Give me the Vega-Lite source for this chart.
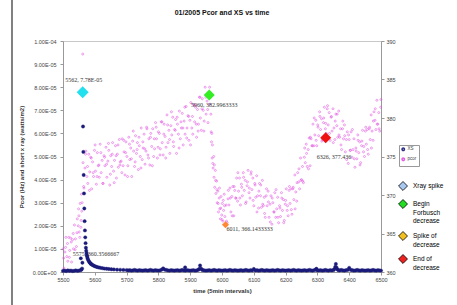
{
"$schema": "https://vega.github.io/schema/vega-lite/v6.json",
"width": 318, "height": 231,
"autosize": {"type": "none"},
"padding": {"left": 63, "top": 41, "right": 76, "bottom": 33},
"background": "white",
"title": {"text": "01/2005 Pcor and XS vs time", "fontSize": 7, "font": "Liberation Sans", "fontWeight": "bold", "color": "#111", "offset": 0, "dy": 17, "anchor": "middle", "frame": "group"},
"config": {
  "view": {"stroke": "#c8c8c8", "strokeWidth": 1},
  "axis": {"labelFont": "Liberation Sans", "labelFontSize": 5.5, "labelColor": "#444", "domainColor": "#999", "tickColor": "#999", "tickSize": 3, "grid": false, "titleFont": "Liberation Sans", "titleFontSize": 6, "titleFontWeight": "bold", "titleColor": "#333", "labelFlush": false, "labelOverlap": false}
},
"datasets": {
"events": [
{"event":"Xray spike","t":5562,"v":7.78e-5,"label":"5562, 7.78E-05"},
{"event":"Begin Forbusch decrease","t":5960,"v":382.9963333,"label":"5960, 382.9963333"},
{"event":"Spike of decrease","t":6011,"v":366.1433333,"label":"6011, 366.1433333"},
{"event":"End of decrease","t":6326,"v":377.436,"label":"6326, 377.436"}
],
"note": [{"t":5575,"v":360.3566667,"label":"5575, 360.3566667"}],
"frame": [{"t":5339.6,"top":1.1775e-4,"bottom":-1.43e-5}],
"pcor": [
{"t":5500,"v":363.0},{"t":5503,"v":360.5},{"t":5506,"v":362.6},{"t":5509,"v":364.5},{"t":5512,"v":362.0},{"t":5515,"v":361.4},{"t":5518,"v":364.5},{"t":5521,"v":362.8},{"t":5524,"v":364.4},{"t":5527,"v":361.3},{"t":5530,"v":364.2},{"t":5533,"v":363.0},{"t":5536,"v":366.1},{"t":5539,"v":364.3},{"t":5542,"v":363.3},{"t":5545,"v":366.9},{"t":5548,"v":366.0},{"t":5549,"v":368.2},{"t":5551,"v":365.2},{"t":5553,"v":364.5},{"t":5554,"v":368.9},{"t":5557,"v":366.7},{"t":5558,"v":370.1},{"t":5560,"v":369.0},{"t":5562,"v":388.3},
{"t":5502,"v":361.8},{"t":5508,"v":363.2},{"t":5514,"v":363.7},{"t":5520,"v":361.9},{"t":5526,"v":363.9},{"t":5532,"v":365.0},{"t":5538,"v":362.9},{"t":5544,"v":365.1},{"t":5550,"v":367.3},{"t":5556,"v":365.8},{"t":5559,"v":367.9},
{"t":5563,"v":374.2},{"t":5566,"v":370.9},{"t":5569,"v":373.5},{"t":5572,"v":375.7},{"t":5575,"v":372.4},{"t":5578,"v":371.5},{"t":5581,"v":375.3},{"t":5584,"v":373.0},{"t":5587,"v":374.9},{"t":5590,"v":370.8},{"t":5593,"v":374.3},{"t":5596,"v":372.4},{"t":5599,"v":375.8},{"t":5602,"v":373.1},{"t":5605,"v":371.4},{"t":5608,"v":375.5},{"t":5611,"v":373.8},{"t":5614,"v":372.3},{"t":5617,"v":376.6},{"t":5620,"v":372.9},{"t":5623,"v":374.5},{"t":5626,"v":371.5},{"t":5629,"v":375.1},{"t":5632,"v":373.8},{"t":5635,"v":376.2},{"t":5638,"v":372.3},{"t":5641,"v":374.4},{"t":5644,"v":375.8},{"t":5647,"v":371.3},{"t":5650,"v":375.1},{"t":5653,"v":373.7},{"t":5656,"v":376.8},{"t":5659,"v":373.1},{"t":5662,"v":374.5},{"t":5665,"v":376.4},{"t":5668,"v":372.2},{"t":5671,"v":375.3},{"t":5674,"v":373.6},{"t":5677,"v":377.2},{"t":5680,"v":374.3},
{"t":5683,"v":374.4},{"t":5686,"v":377.3},{"t":5689,"v":373.8},{"t":5692,"v":375.6},{"t":5695,"v":372.6},{"t":5698,"v":376.9},{"t":5701,"v":375.0},{"t":5704,"v":373.8},{"t":5707,"v":377.5},{"t":5710,"v":374.6},{"t":5713,"v":376.1},{"t":5716,"v":372.4},{"t":5719,"v":377.0},{"t":5722,"v":375.7},{"t":5725,"v":373.7},{"t":5728,"v":377.7},{"t":5731,"v":375.4},{"t":5734,"v":376.8},{"t":5737,"v":373.3},{"t":5740,"v":376.4},{"t":5743,"v":375.0},{"t":5746,"v":378.7},{"t":5749,"v":374.6},{"t":5752,"v":376.1},{"t":5755,"v":377.9},{"t":5758,"v":374.0},{"t":5761,"v":375.7},{"t":5764,"v":378.6},{"t":5767,"v":375.2},{"t":5770,"v":377.3},{"t":5773,"v":373.9},{"t":5776,"v":378.0},{"t":5779,"v":376.3},{"t":5782,"v":378.6},{"t":5785,"v":375.0},{"t":5788,"v":376.0},{"t":5791,"v":379.4},{"t":5794,"v":377.3},{"t":5797,"v":374.8},{"t":5800,"v":378.2},
{"t":5803,"v":378.0},{"t":5806,"v":376.0},{"t":5809,"v":379.5},{"t":5812,"v":376.8},{"t":5815,"v":375.2},{"t":5818,"v":379.2},{"t":5821,"v":377.6},{"t":5824,"v":376.2},{"t":5827,"v":380.4},{"t":5830,"v":376.8},{"t":5833,"v":378.4},{"t":5836,"v":375.4},{"t":5839,"v":379.0},{"t":5842,"v":377.8},{"t":5845,"v":380.1},{"t":5848,"v":376.3},{"t":5851,"v":378.5},{"t":5854,"v":379.8},{"t":5857,"v":375.4},{"t":5860,"v":379.2},{"t":5863,"v":377.9},{"t":5866,"v":380.9},{"t":5869,"v":377.3},{"t":5872,"v":378.7},{"t":5875,"v":380.6},{"t":5878,"v":376.5},{"t":5881,"v":379.6},{"t":5884,"v":377.9},{"t":5887,"v":381.5},{"t":5890,"v":378.7},{"t":5893,"v":380.3},{"t":5896,"v":377.1},{"t":5899,"v":379.7},{"t":5902,"v":382.0},{"t":5905,"v":378.7},{"t":5908,"v":377.9},{"t":5911,"v":381.7},{"t":5914,"v":379.5},{"t":5917,"v":381.4},{"t":5920,"v":377.5},{"t":5923,"v":381.1},{"t":5926,"v":379.2},{"t":5929,"v":382.7},{"t":5932,"v":380.0},{"t":5935,"v":378.4},{"t":5938,"v":382.5},{"t":5941,"v":381.0},{"t":5944,"v":379.6},{"t":5947,"v":384.0},{"t":5950,"v":380.5},{"t":5953,"v":382.2},{"t":5956,"v":379.4},{"t":5959,"v":383.0},{"t":5962,"v":381.8},
{"t":5565,"v":371.1},{"t":5571,"v":375.3},{"t":5577,"v":373.7},{"t":5583,"v":370.6},{"t":5589,"v":374.8},{"t":5595,"v":372.9},{"t":5601,"v":376.5},{"t":5607,"v":372.4},{"t":5613,"v":373.9},{"t":5619,"v":375.5},{"t":5625,"v":371.5},{"t":5631,"v":374.9},{"t":5637,"v":374.0},{"t":5643,"v":376.7},{"t":5649,"v":372.7},{"t":5655,"v":375.3},{"t":5661,"v":371.6},{"t":5667,"v":375.1},{"t":5673,"v":376.5},{"t":5679,"v":373.9},{"t":5685,"v":372.9},{"t":5691,"v":377.1},{"t":5697,"v":375.5},{"t":5703,"v":372.4},{"t":5709,"v":376.6},{"t":5715,"v":374.7},{"t":5721,"v":378.3},{"t":5727,"v":374.3},{"t":5733,"v":375.9},{"t":5739,"v":377.5},{"t":5745,"v":373.5},{"t":5751,"v":376.9},{"t":5757,"v":376.0},{"t":5763,"v":378.8},{"t":5769,"v":374.8},{"t":5775,"v":377.5},{"t":5781,"v":373.8},{"t":5787,"v":377.3},{"t":5793,"v":378.8},{"t":5799,"v":376.2},{"t":5805,"v":375.2},{"t":5811,"v":379.5},{"t":5817,"v":377.9},{"t":5823,"v":374.8},{"t":5829,"v":379.1},{"t":5835,"v":377.2},{"t":5841,"v":380.8},{"t":5847,"v":376.9},{"t":5853,"v":378.4},{"t":5859,"v":380.1},{"t":5865,"v":376.1},{"t":5871,"v":379.5},{"t":5877,"v":378.7},{"t":5883,"v":381.4},{"t":5889,"v":377.4},{"t":5895,"v":380.2},{"t":5901,"v":376.5},{"t":5907,"v":380.2},{"t":5913,"v":381.7},{"t":5919,"v":379.2},{"t":5925,"v":378.3},{"t":5931,"v":382.7},{"t":5937,"v":381.2},{"t":5943,"v":378.3},{"t":5949,"v":382.7},{"t":5955,"v":381.1},{"t":5961,"v":384.0},
{"t":5965,"v":380.5},{"t":5966,"v":378.2},{"t":5967,"v":376.9},{"t":5968,"v":378.0},{"t":5969,"v":374.8},{"t":5970,"v":376.5},{"t":5972,"v":373.5},{"t":5974,"v":375.0},{"t":5975,"v":372.3},{"t":5977,"v":371.0},{"t":5979,"v":373.2},{"t":5981,"v":370.2},{"t":5983,"v":371.8},{"t":5985,"v":369.0},{"t":5987,"v":370.5},{"t":5989,"v":367.8},{"t":5991,"v":369.6},{"t":5993,"v":368.2},{"t":5995,"v":366.9},{"t":5997,"v":369.8},{"t":5999,"v":367.4},{"t":6001,"v":368.9},{"t":6003,"v":366.6},{"t":6005,"v":368.0},{"t":6007,"v":370.1},{"t":6009,"v":367.2},{"t":6011,"v":366.14},
{"t":5971,"v":374.1},{"t":5976,"v":373.9},{"t":5980,"v":371.9},{"t":5984,"v":370.7},{"t":5988,"v":368.9},{"t":5992,"v":370.9},{"t":5996,"v":368.3},{"t":6000,"v":366.8},{"t":6004,"v":369.3},{"t":6008,"v":368.6},
{"t":6013,"v":368.7},{"t":6016,"v":366.4},{"t":6019,"v":369.5},{"t":6022,"v":368.7},{"t":6025,"v":370.9},{"t":6028,"v":367.8},{"t":6031,"v":369.8},{"t":6034,"v":371.1},{"t":6037,"v":367.3},{"t":6040,"v":370.6},{"t":6043,"v":369.6},{"t":6046,"v":372.2},{"t":6049,"v":369.2},{"t":6052,"v":370.5},{"t":6055,"v":372.2},{"t":6058,"v":368.7},{"t":6061,"v":371.4},{"t":6064,"v":369.9},{"t":6067,"v":372.9},{"t":6070,"v":370.6},{"t":6073,"v":371.9},{"t":6076,"v":369.1},{"t":6079,"v":371.2},{"t":6082,"v":373.2},{"t":6085,"v":370.3},{"t":6088,"v":369.6},{"t":6091,"v":372.7},{"t":6094,"v":370.7},{"t":6097,"v":372.2},{"t":6100,"v":368.6},{"t":6103,"v":371.5},{"t":6106,"v":369.7},{"t":6109,"v":372.5},{"t":6112,"v":369.9},{"t":6115,"v":368.3},{"t":6118,"v":371.5},{"t":6121,"v":369.9},{"t":6124,"v":368.4},{"t":6127,"v":371.9},{"t":6130,"v":368.6},{"t":6133,"v":369.7},{"t":6136,"v":367.1},{"t":6139,"v":369.9},{"t":6142,"v":368.6},{"t":6145,"v":370.5},{"t":6148,"v":367.1},{"t":6151,"v":368.8},{"t":6154,"v":369.9},{"t":6157,"v":366.2},{"t":6160,"v":369.0},{"t":6163,"v":367.8},{"t":6166,"v":370.3},{"t":6169,"v":367.1},{"t":6172,"v":368.2},{"t":6175,"v":369.7},{"t":6178,"v":366.4},{"t":6181,"v":368.6},{"t":6184,"v":367.2},{"t":6187,"v":370.3},{"t":6190,"v":368.0},{"t":6193,"v":369.4},{"t":6196,"v":366.7},{"t":6199,"v":368.8},{"t":6202,"v":370.8},{"t":6205,"v":368.0},{"t":6208,"v":367.3},{"t":6211,"v":370.6},{"t":6214,"v":368.9},{"t":6217,"v":370.8},{"t":6220,"v":367.5},{"t":6223,"v":370.8},{"t":6226,"v":369.4},{"t":6229,"v":372.6},{"t":6232,"v":370.4},{"t":6235,"v":369.2},{"t":6238,"v":372.9},{"t":6241,"v":371.7},{"t":6244,"v":370.8},{"t":6247,"v":374.8},{"t":6250,"v":372.0},{"t":6253,"v":373.7},{"t":6256,"v":371.6},{"t":6259,"v":374.9},{"t":6262,"v":374.2},{"t":6265,"v":376.6},{"t":6268,"v":373.7},{"t":6271,"v":375.9},{"t":6274,"v":377.4},{"t":6277,"v":373.8},{"t":6280,"v":377.3},{"t":6283,"v":376.4},{"t":6286,"v":379.2},{"t":6289,"v":376.4},{"t":6292,"v":377.8},{"t":6295,"v":379.7},{"t":6298,"v":376.4},{"t":6301,"v":379.1},{"t":6304,"v":377.7},{"t":6307,"v":380.8},{"t":6310,"v":378.5},{"t":6313,"v":379.9},{"t":6316,"v":377.2},{"t":6319,"v":379.4},{"t":6322,"v":381.4},{"t":6325,"v":378.6},{"t":6328,"v":378.0},{"t":6331,"v":381.2},{"t":6334,"v":379.1},{"t":6337,"v":380.7},{"t":6340,"v":377.1},{"t":6343,"v":380.1},{"t":6346,"v":378.3},{"t":6349,"v":381.2},{"t":6352,"v":378.7},{"t":6355,"v":377.2},{"t":6358,"v":380.5},{"t":6361,"v":379.0},{"t":6364,"v":377.5},{"t":6367,"v":380.9},{"t":6370,"v":377.5},{"t":6373,"v":378.6},{"t":6376,"v":375.9},{"t":6379,"v":378.6},{"t":6382,"v":377.3},{"t":6385,"v":379.1},{"t":6388,"v":375.6},{"t":6391,"v":377.2},{"t":6394,"v":378.2},{"t":6397,"v":374.1},{"t":6400,"v":377.2},{"t":6403,"v":375.8},{"t":6406,"v":378.2},{"t":6409,"v":374.9},{"t":6412,"v":375.9},{"t":6415,"v":377.3},{"t":6418,"v":373.6},{"t":6421,"v":376.1},{"t":6424,"v":374.7},{"t":6427,"v":377.8},{"t":6430,"v":375.5},{"t":6433,"v":376.9},{"t":6436,"v":374.2},{"t":6439,"v":376.4},{"t":6442,"v":378.4},{"t":6445,"v":375.6},{"t":6448,"v":375.0},{"t":6451,"v":378.3},{"t":6454,"v":376.6},{"t":6457,"v":378.5},{"t":6460,"v":375.3},{"t":6463,"v":378.6},{"t":6466,"v":377.2},{"t":6469,"v":380.4},{"t":6472,"v":378.3},{"t":6475,"v":377.1},{"t":6478,"v":380.8},{"t":6481,"v":379.7},{"t":6484,"v":378.5},{"t":6487,"v":382.3},{"t":6490,"v":379.2},{"t":6493,"v":380.7},{"t":6496,"v":378.3},{"t":6499,"v":381.4},
{"t":6014,"v":366.6},{"t":6020,"v":370.6},{"t":6026,"v":369.6},{"t":6032,"v":367.3},{"t":6038,"v":371.1},{"t":6044,"v":369.6},{"t":6050,"v":372.9},{"t":6056,"v":369.6},{"t":6062,"v":371.0},{"t":6068,"v":372.3},{"t":6074,"v":368.9},{"t":6080,"v":371.7},{"t":6086,"v":370.9},{"t":6092,"v":373.0},{"t":6098,"v":369.3},{"t":6104,"v":371.3},{"t":6110,"v":367.8},{"t":6116,"v":370.5},{"t":6122,"v":371.3},{"t":6128,"v":368.8},{"t":6134,"v":367.6},{"t":6140,"v":370.8},{"t":6146,"v":369.1},{"t":6152,"v":366.5},{"t":6158,"v":369.6},{"t":6164,"v":367.8},{"t":6170,"v":370.7},{"t":6176,"v":367.1},{"t":6182,"v":368.3},{"t":6188,"v":369.6},{"t":6194,"v":366.4},{"t":6200,"v":369.3},{"t":6206,"v":368.6},{"t":6212,"v":371.1},{"t":6218,"v":368.1},{"t":6224,"v":371.0},{"t":6230,"v":368.2},{"t":6236,"v":371.6},{"t":6242,"v":373.4},{"t":6248,"v":371.9},{"t":6254,"v":371.8},{"t":6260,"v":376.1},{"t":6266,"v":375.4},{"t":6272,"v":373.4},{"t":6278,"v":377.5},{"t":6284,"v":376.4},{"t":6290,"v":380.0},{"t":6296,"v":377.1},{"t":6302,"v":378.8},{"t":6308,"v":380.2},{"t":6314,"v":377.0},{"t":6320,"v":380.0},{"t":6326,"v":379.3},{"t":6332,"v":381.6},{"t":6338,"v":378.0},{"t":6344,"v":380.2},{"t":6350,"v":376.8},{"t":6356,"v":379.6},{"t":6362,"v":380.5},{"t":6368,"v":377.8},{"t":6374,"v":376.5},{"t":6380,"v":379.6},{"t":6386,"v":377.7},{"t":6392,"v":374.6},{"t":6398,"v":377.8},{"t":6404,"v":375.8},{"t":6410,"v":378.5},{"t":6416,"v":374.7},{"t":6422,"v":375.7},{"t":6428,"v":377.1},{"t":6434,"v":373.9},{"t":6440,"v":377.0},{"t":6446,"v":376.3},{"t":6452,"v":378.8},{"t":6458,"v":375.9},{"t":6464,"v":378.8},{"t":6470,"v":376.1},{"t":6476,"v":379.6},{"t":6482,"v":381.2},{"t":6488,"v":379.2},{"t":6494,"v":378.6},{"t":6500,"v":382.4}
],
"xs": [
{"t":5500,"v":5e-7},{"t":5505,"v":6e-7},{"t":5510,"v":4e-7},{"t":5515,"v":7e-7},{"t":5520,"v":5e-7},{"t":5525,"v":6e-7},{"t":5530,"v":4e-7},{"t":5535,"v":5e-7},{"t":5540,"v":7e-7},{"t":5545,"v":5e-7},{"t":5550,"v":6e-7},{"t":5555,"v":8e-7},{"t":5556,"v":5.9e-6},{"t":5558,"v":1e-6},{"t":5560,"v":1.5e-6},{"t":5561,"v":4e-6},
{"t":5562,"v":7.78e-5},{"t":5563,"v":6.3e-5},{"t":5564,"v":5.2e-5},{"t":5565,"v":4.2e-5},{"t":5566,"v":3.4e-5},{"t":5567,"v":2.75e-5},{"t":5568,"v":2.2e-5},{"t":5569,"v":1.8e-5},{"t":5570,"v":1.5e-5},{"t":5571,"v":1.25e-5},{"t":5572,"v":1.05e-5},{"t":5573,"v":9.2e-6},{"t":5574,"v":8.2e-6},{"t":5575,"v":7.4e-6},{"t":5576,"v":6.7e-6},{"t":5577,"v":6.1e-6},{"t":5578,"v":5.6e-6},{"t":5580,"v":5e-6},{"t":5582,"v":4.5e-6},{"t":5584,"v":4.1e-6},{"t":5586,"v":3.8e-6},{"t":5588,"v":3.5e-6},{"t":5590,"v":3.3e-6},{"t":5593,"v":3e-6},{"t":5596,"v":2.8e-6},{"t":5600,"v":2.5e-6},{"t":5604,"v":2.3e-6},{"t":5608,"v":2.1e-6},{"t":5613,"v":1.95e-6},{"t":5618,"v":1.8e-6},{"t":5624,"v":1.65e-6},{"t":5630,"v":1.5e-6},{"t":5637,"v":1.4e-6},{"t":5644,"v":1.3e-6},{"t":5652,"v":1.2e-6},{"t":5660,"v":1.1e-6},{"t":5670,"v":1e-6},{"t":5680,"v":9.5e-7},{"t":5690,"v":9e-7},{"t":5700,"v":8.5e-7},
{"t":5705,"v":7e-7},{"t":5710,"v":8e-7},{"t":5715,"v":6e-7},{"t":5720,"v":7e-7},{"t":5725,"v":9e-7},{"t":5730,"v":7e-7},{"t":5735,"v":6e-7},{"t":5740,"v":8e-7},{"t":5745,"v":7e-7},{"t":5750,"v":6e-7},{"t":5755,"v":7e-7},{"t":5760,"v":8e-7},{"t":5765,"v":6e-7},{"t":5770,"v":7e-7},{"t":5775,"v":9e-7},{"t":5780,"v":7e-7},{"t":5785,"v":6e-7},{"t":5790,"v":8e-7},{"t":5795,"v":7e-7},{"t":5800,"v":6e-7},{"t":5805,"v":7e-7},{"t":5810,"v":1e-6},{"t":5815,"v":1.6e-6},{"t":5820,"v":1e-6},{"t":5825,"v":9e-7},{"t":5830,"v":7e-7},{"t":5835,"v":6e-7},{"t":5840,"v":8e-7},{"t":5845,"v":7e-7},{"t":5850,"v":6e-7},{"t":5855,"v":7e-7},{"t":5860,"v":8e-7},{"t":5865,"v":6e-7},{"t":5870,"v":7e-7},{"t":5875,"v":9e-7},{"t":5880,"v":7e-7},{"t":5884,"v":2e-6},{"t":5885,"v":6e-7},{"t":5890,"v":8e-7},{"t":5895,"v":7e-7},{"t":5900,"v":6e-7},{"t":5905,"v":7e-7},{"t":5910,"v":8e-7},{"t":5915,"v":6e-7},{"t":5920,"v":7e-7},{"t":5925,"v":9e-7},{"t":5928,"v":1.3e-6},{"t":5931,"v":2.8e-6},{"t":5934,"v":1.5e-6},{"t":5937,"v":1e-6},{"t":5940,"v":8e-7},{"t":5945,"v":7e-7},{"t":5950,"v":6e-7},
{"t":5955,"v":7e-7},{"t":5960,"v":8e-7},{"t":5965,"v":6e-7},{"t":5970,"v":7e-7},{"t":5975,"v":9e-7},{"t":5980,"v":7e-7},{"t":5985,"v":6e-7},{"t":5990,"v":8e-7},{"t":5995,"v":7e-7},{"t":6000,"v":6e-7},{"t":6005,"v":7e-7},{"t":6010,"v":8e-7},{"t":6015,"v":6e-7},{"t":6020,"v":7e-7},{"t":6025,"v":9e-7},{"t":6030,"v":7e-7},{"t":6035,"v":6e-7},{"t":6040,"v":8e-7},{"t":6045,"v":7e-7},{"t":6050,"v":6e-7},{"t":6055,"v":7e-7},{"t":6060,"v":8e-7},{"t":6065,"v":6e-7},{"t":6070,"v":7e-7},{"t":6075,"v":9e-7},{"t":6080,"v":7e-7},{"t":6085,"v":6e-7},{"t":6090,"v":8e-7},{"t":6095,"v":7e-7},{"t":6100,"v":1.3e-6},{"t":6105,"v":7e-7},{"t":6110,"v":8e-7},{"t":6115,"v":6e-7},{"t":6120,"v":7e-7},{"t":6125,"v":9e-7},{"t":6130,"v":7e-7},{"t":6135,"v":6e-7},{"t":6140,"v":8e-7},{"t":6145,"v":7e-7},{"t":6150,"v":6e-7},{"t":6155,"v":7e-7},{"t":6160,"v":8e-7},{"t":6165,"v":6e-7},{"t":6170,"v":7e-7},{"t":6175,"v":9e-7},{"t":6180,"v":7e-7},{"t":6185,"v":6e-7},{"t":6190,"v":8e-7},{"t":6195,"v":7e-7},{"t":6200,"v":6e-7},
{"t":6205,"v":7e-7},{"t":6210,"v":8e-7},{"t":6215,"v":6e-7},{"t":6220,"v":7e-7},{"t":6225,"v":9e-7},{"t":6230,"v":7e-7},{"t":6235,"v":6e-7},{"t":6240,"v":8e-7},{"t":6245,"v":7e-7},{"t":6250,"v":6e-7},{"t":6255,"v":7e-7},{"t":6260,"v":8e-7},{"t":6265,"v":6e-7},{"t":6270,"v":7e-7},{"t":6275,"v":9e-7},{"t":6280,"v":7e-7},{"t":6285,"v":6e-7},{"t":6290,"v":8e-7},{"t":6295,"v":1.1e-6},{"t":6297,"v":1.4e-6},{"t":6300,"v":7e-7},{"t":6305,"v":7e-7},{"t":6310,"v":8e-7},{"t":6315,"v":6e-7},{"t":6320,"v":7e-7},{"t":6325,"v":9e-7},{"t":6330,"v":7e-7},{"t":6335,"v":6e-7},{"t":6340,"v":8e-7},{"t":6345,"v":7e-7},{"t":6350,"v":8e-7},{"t":6353,"v":1.2e-6},{"t":6356,"v":2.2e-6},{"t":6358,"v":3.5e-6},{"t":6360,"v":2e-6},{"t":6363,"v":1.1e-6},{"t":6366,"v":8e-7},{"t":6370,"v":7e-7},{"t":6375,"v":9e-7},{"t":6380,"v":7e-7},{"t":6385,"v":6e-7},{"t":6390,"v":8e-7},{"t":6395,"v":9e-7},{"t":6400,"v":1.8e-6},{"t":6405,"v":9e-7},{"t":6410,"v":8e-7},{"t":6415,"v":6e-7},{"t":6420,"v":7e-7},{"t":6425,"v":9e-7},{"t":6430,"v":7e-7},{"t":6435,"v":6e-7},{"t":6440,"v":8e-7},{"t":6445,"v":7e-7},{"t":6450,"v":6e-7},{"t":6455,"v":7e-7},{"t":6460,"v":8e-7},{"t":6465,"v":6e-7},{"t":6470,"v":7e-7},{"t":6475,"v":9e-7},{"t":6480,"v":7e-7},{"t":6485,"v":6e-7},{"t":6490,"v":8e-7},{"t":6495,"v":7e-7},{"t":6500,"v":6e-7}
]
},
"layer": [
{
"layer": [
{"data": {"name": "pcor"},
 "mark": {"type": "point", "filled": false, "size": 4, "strokeWidth": 0.6, "opacity": 0.9},
 "encoding": {
  "x": {"field": "t", "type": "quantitative", "scale": {"domain": [5500, 6500], "nice": false, "zero": false},
        "axis": {"values": [5500,5600,5700,5800,5900,6000,6100,6200,6300,6400,6500], "tickCount": 11, "format": "d", "title": "time (5min intervals)", "titlePadding": 5, "labelPadding": 2, "labelOverlap": false, "labelFlush": false}},
  "y": {"field": "v", "type": "quantitative", "scale": {"domain": [360, 390], "nice": false, "zero": false},
        "axis": {"orient": "right", "values": [360,365,370,375,380,385,390], "tickCount": 7, "title": null, "labelPadding": 2, "labelOverlap": false, "labelFlush": false}},
  "stroke": {"datum": "pcor", "scale": {"domain": ["XS", "pcor"], "range": ["#1a1a7a", "#e050e0"]},
             "legend": {"orient": "none", "legendX": 336, "legendY": 104, "title": null, "strokeColor": "#999", "padding": 2, "labelFontSize": 4.5, "labelFont": "Liberation Sans", "labelColor": "#444", "symbolSize": 6, "symbolType": "circle", "rowPadding": 1, "labelOffset": 2}}
 }},
{"data": {"name": "events"}, "transform": [{"filter": "datum.event != 'Xray spike'"}],
 "mark": {"type": "point", "shape": "diamond", "filled": true, "opacity": 1, "strokeWidth": 0},
 "encoding": {
  "x": {"field": "t", "type": "quantitative"},
  "y": {"field": "v", "type": "quantitative"},
  "fill": {"field": "event", "type": "nominal", "scale": {"domain": ["Begin Forbusch decrease","Spike of decrease","End of decrease","Xray spike"], "range": ["#33ee22","#ff8833","#ee1111","#22e0ee"]}, "legend": null},
  "size": {"field": "event", "type": "nominal", "scale": {"type": "ordinal", "domain": ["Begin Forbusch decrease","Spike of decrease","End of decrease","Xray spike"], "range": [121,50,121,144]}, "legend": null}
 }},
{"data": {"name": "events"}, "transform": [{"filter": "false"}],
 "mark": {"type": "point", "shape": "diamond", "filled": true},
 "encoding": {
  "color": {"field": "event", "type": "nominal", "scale": {"domain": ["Xray spike","Begin Forbusch decrease","Spike of decrease","End of decrease"], "range": ["#a8c8f0","#22dd22","#f0c020","#ee2020"]},
   "legend": {"orient": "none", "legendX": 335, "legendY": 140, "title": null, "symbolType": "diamond", "symbolSize": 80, "symbolStrokeColor": "#000", "symbolStrokeWidth": 0.8, "symbolOpacity": 1, "labelFontSize": 6.5, "labelFont": "Liberation Sans", "labelColor": "#000", "labelOffset": 5, "rowPadding": 4, "labelLimit": 100,
     "labelExpr": "datum.label == 'Begin Forbusch decrease' ? ['Begin','Forbusch','decrease'] : datum.label == 'Spike of decrease' ? ['Spike of','decrease'] : datum.label == 'End of decrease' ? ['End of','decrease'] : datum.label"}}
 }},
{"data": {"name": "events"}, "transform": [{"filter": "datum.event == 'Begin Forbusch decrease'"}],
 "mark": {"type": "text", "font": "Liberation Serif", "fontSize": 6, "color": "#333", "align": "center", "baseline": "middle", "dx": 5, "dy": 10},
 "encoding": {"x": {"field": "t", "type": "quantitative"}, "y": {"field": "v", "type": "quantitative"}, "text": {"field": "label"}}},
{"data": {"name": "events"}, "transform": [{"filter": "datum.event == 'Spike of decrease'"}],
 "mark": {"type": "text", "font": "Liberation Serif", "fontSize": 6, "color": "#333", "align": "left", "baseline": "middle", "dx": 1, "dy": 4},
 "encoding": {"x": {"field": "t", "type": "quantitative"}, "y": {"field": "v", "type": "quantitative"}, "text": {"field": "label"}}},
{"data": {"name": "events"}, "transform": [{"filter": "datum.event == 'End of decrease'"}],
 "mark": {"type": "text", "font": "Liberation Serif", "fontSize": 6, "color": "#333", "align": "left", "baseline": "middle", "dx": -9, "dy": 19},
 "encoding": {"x": {"field": "t", "type": "quantitative"}, "y": {"field": "v", "type": "quantitative"}, "text": {"field": "label"}}},
{"data": {"name": "note"},
 "mark": {"type": "text", "font": "Liberation Serif", "fontSize": 6, "color": "#333", "align": "left", "baseline": "middle", "dx": -14, "dy": -15},
 "encoding": {"x": {"field": "t", "type": "quantitative"}, "y": {"field": "v", "type": "quantitative"}, "text": {"field": "label"}}}
]
},
{
"layer": [
{"data": {"name": "frame"},
 "mark": {"type": "rule", "color": "#808080", "strokeWidth": 2, "clip": false},
 "encoding": {"x": {"field": "t", "type": "quantitative"}, "y": {"field": "top", "type": "quantitative"}, "y2": {"field": "bottom"}}},
{"data": {"name": "xs"},
 "mark": {"type": "point", "shape": "circle", "filled": true, "size": 11, "fill": "#1a1a7a", "strokeWidth": 0.4, "opacity": 1},
 "encoding": {
  "x": {"field": "t", "type": "quantitative"},
  "y": {"field": "v", "type": "quantitative", "scale": {"domain": [0, 0.0001], "nice": false},
        "axis": {"orient": "left", "values": [0,0.00001,0.00002,0.00003,0.00004,0.00005,0.00006,0.00007,0.00008,0.00009,0.0001], "tickCount": 11, "labelExpr": "replace(replace(format(datum.value, '.2e'), 'e-', 'E-0'), 'e+', 'E+0')", "labelPadding": 4, "titlePadding": 8, "labelOverlap": false, "labelFlush": false, "title": "Pcor (Hz) and short x ray (watts/m2)"}},
  "stroke": {"datum": "XS"}
 }},
{"data": {"name": "events"}, "transform": [{"filter": "datum.event == 'Xray spike'"}],
 "mark": {"type": "point", "shape": "diamond", "filled": true, "opacity": 1, "strokeWidth": 0},
 "encoding": {
  "x": {"field": "t", "type": "quantitative"},
  "y": {"field": "v", "type": "quantitative"},
  "fill": {"field": "event", "type": "nominal", "scale": {"domain": ["Begin Forbusch decrease","Spike of decrease","End of decrease","Xray spike"], "range": ["#33ee22","#ff8833","#ee1111","#22e0ee"]}, "legend": null},
  "size": {"field": "event", "type": "nominal", "scale": {"type": "ordinal", "domain": ["Begin Forbusch decrease","Spike of decrease","End of decrease","Xray spike"], "range": [121,50,121,144]}, "legend": null}
 }},
{"data": {"name": "events"}, "transform": [{"filter": "datum.event == 'Xray spike'"}],
 "mark": {"type": "text", "font": "Liberation Serif", "fontSize": 6, "color": "#333", "align": "center", "baseline": "middle", "dx": 1, "dy": -12},
 "encoding": {"x": {"field": "t", "type": "quantitative"}, "y": {"field": "v", "type": "quantitative"}, "text": {"field": "label"}}}
]
}
],
"resolve": {"scale": {"y": "independent"}}
}
